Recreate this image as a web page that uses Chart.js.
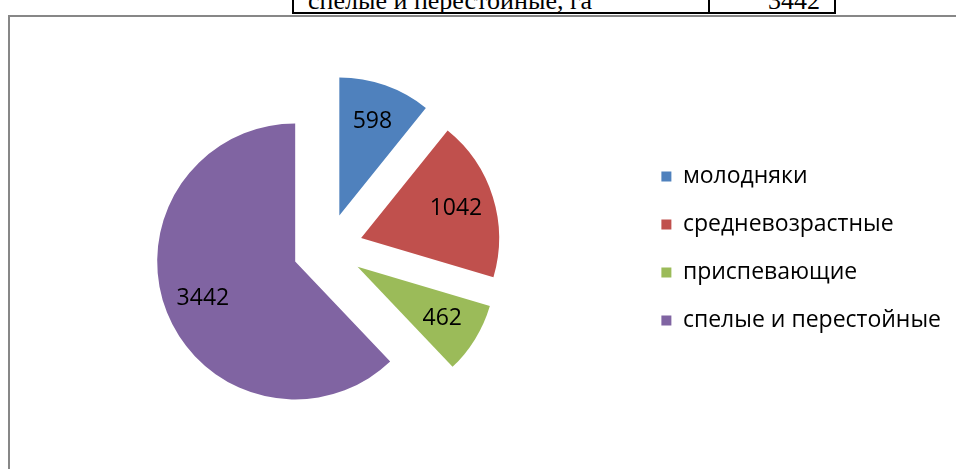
<!DOCTYPE html>
<html>
<head>
<meta charset="utf-8">
<script src="https://cdn.jsdelivr.net/npm/chart.js@4"></script>
<style>
  html, body { margin: 0; padding: 0; background: #fff; width: 956px; height: 469px; overflow: hidden; }
  #frame { position: absolute; left: 8px; top: 15px; width: 960px; height: 470px; border-left: 2px solid #878787; border-top: 2px solid #878787; }
  .cell { position: absolute; top: -30px; height: 44px; box-sizing: border-box; border-bottom: 2px solid #000; border-right: 2px solid #000; }
  #c1 { left: 292px; width: 418px; border-left: 2px solid #000; }
  #c2 { left: 710px; width: 126px; }
  .ttext { position: absolute; font-family: "Liberation Serif", serif; font-size: 26px; line-height: 26px; top: -12px; color: #000; white-space: nowrap; }
  #t1 { left: 308px; }
  #t2 { right: 136px; }
  #chart { position: absolute; left: 0; top: 0; }
</style>
</head>
<body>
<div id="frame"></div>
<div class="cell" id="c1"></div>
<div class="cell" id="c2"></div>
<span class="ttext" id="t1">спелые и перестойные, га</span>
<span class="ttext" id="t2">3442</span>
<canvas id="chart" width="956" height="469"></canvas>
<script>
// data
const categories = ['молодняки', 'средневозрастные', 'приспевающие', 'спелые и перестойные'];
const values = [598, 1042, 462, 3442];
const colors = ['#4F81BD', '#C0504D', '#9BBB59', '#8064A2'];

const EXPLODE = 35;
const FONT = 'Open Sans';

// pull every slice out along its middle angle and write the value on it
const explode = {
  id: 'explode',
  beforeDatasetDraw(chart, args) {
    const ctx = chart.ctx;
    args.meta.data.forEach(function(arc, i) {
      const mid = (arc.startAngle + arc.endAngle) / 2;
      ctx.save();
      ctx.translate(Math.cos(mid) * EXPLODE, Math.sin(mid) * EXPLODE);
      arc.draw(ctx);
      ctx.restore();
      const r = EXPLODE + arc.outerRadius * 0.72;
      ctx.save();
      ctx.font = '23px "' + FONT + '"';
      ctx.fillStyle = '#000';
      ctx.textAlign = 'center';
      ctx.textBaseline = 'middle';
      ctx.fillText(String(values[i]), arc.x + Math.cos(mid) * r, arc.y + Math.sin(mid) * r);
      ctx.restore();
    });
    return false;
  }
};

const ctx = document.getElementById('chart');
const myChart = new Chart(ctx, {
  type: 'pie',
  data: {
    labels: categories,
    datasets: [{
      data: values,
      backgroundColor: colors,
      borderWidth: 0,
      radius: 138
    }]
  },
  options: {
    responsive: false,
    devicePixelRatio: 1,
    animation: false,
    layout: { padding: { left: 19, top: 28, bottom: 0, right: 5 } },
    plugins: {
      tooltip: { enabled: false },
      legend: {
        position: 'right',
        labels: {
          boxWidth: 10,
          boxHeight: 10,
          padding: 25,
          color: '#000',
          font: { family: FONT, size: 23 }
        }
      }
    }
  },
  plugins: [explode]
});
</script>
</body>
</html>
